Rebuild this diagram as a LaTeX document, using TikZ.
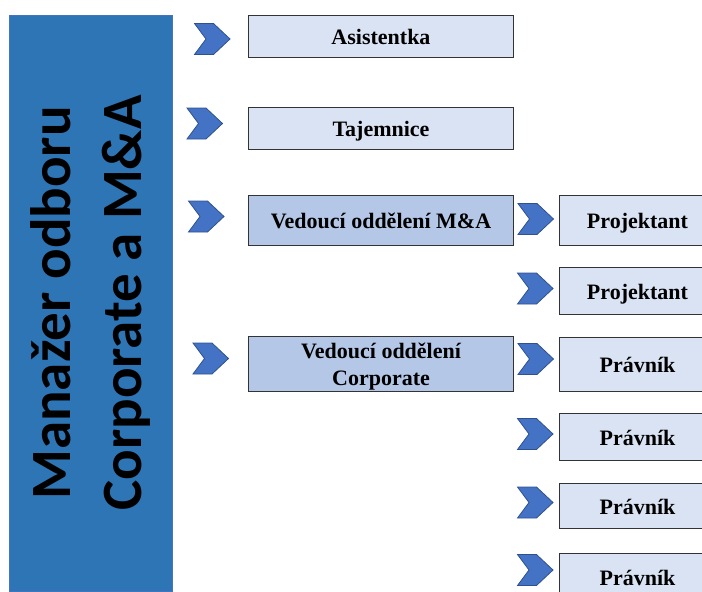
\documentclass[tikz,border=0pt]{standalone}
\usepackage{fontspec}
\setmainfont{Liberation Serif}
\newfontfamily\manfont{Carlito}

\definecolor{mainblue}{HTML}{2E75B6}
\definecolor{chevblue}{HTML}{4472C4}
\definecolor{chevedge}{HTML}{2F528F}
\definecolor{lightbox}{HTML}{DAE3F3}
\definecolor{midbox}{HTML}{B4C7E7}

\tikzset{
  chevron/.pic={
    \draw[fill=chevblue, draw=chevedge, line width=0.8pt, line join=miter]
      (-17.5,-15.5) -- (1.5,-15.5) -- (18,0) -- (1.5,15.5) -- (-17.5,15.5)
      -- (-6,0) -- cycle;
  },
  rolebox/.style={draw=black!80, line width=0.8pt, fill=lightbox, align=center,
    inner sep=0pt, font=\bfseries\fontsize{22}{27}\selectfont},
  onebox/.style={rolebox, text height=19pt, text depth=2pt},
  leftbox/.style={onebox, minimum width=265pt},
  rightbox/.style={onebox, minimum width=157pt},
  headbox/.style={leftbox, fill=midbox},
}

\begin{document}
\begin{tikzpicture}[x=1pt,y=-1pt]
\useasboundingbox (0,0) rectangle (702,592);
\clip (0,0) rectangle (702,592);
% manager
\node[rotate=90, fill=mainblue, draw=chevblue, minimum width=576pt,
  minimum height=163pt, align=center,
  font=\manfont\bfseries\fontsize{57}{71}\selectfont] (mgr) at (90.5,303)
  {Manažer odboru\\Corporate a M\&A};
% left column
\node[leftbox, minimum height=42pt] (asist) at (381,36) {Asistentka};
\node[leftbox, minimum height=42pt] (tajem) at (381,128) {Tajemnice};
\node[headbox, minimum height=50pt] (vedma) at (381,220) {Vedoucí oddělení M\&A};
\node[headbox, minimum height=55pt] (vedcorp) at (381,363.5) {};
\node[rolebox, draw=none, fill=none] (vedcorp-txt) at (381,366.5)
  {Vedoucí oddělení\\Corporate};
\pic at (212,39) {chevron};
\pic at (204.5,123.5) {chevron};
\pic at (206,216.5) {chevron};
\pic at (210.5,358.5) {chevron};
% right column
\node[rightbox, minimum height=50pt] (proj1) at (637.5,220) {Projektant};
\node[rightbox, minimum height=47pt] (proj2) at (637.5,290.5) {Projektant};
\node[rightbox, minimum height=54pt] (prav1) at (637.5,364) {Právník};
\node[rightbox, minimum height=47pt] (prav2) at (637.5,436.5) {Právník};
\node[rightbox, minimum height=45pt] (prav3) at (637.5,505.5) {Právník};
\node[rightbox, minimum height=48pt] (prav4) at (637.5,577) {Právník};
\pic at (535.5,219) {chevron};
\pic at (535,288.5) {chevron};
\pic at (535.5,359) {chevron};
\pic at (535,434) {chevron};
\pic at (535,502.5) {chevron};
\pic at (535,570) {chevron};
\end{tikzpicture}
\end{document}
